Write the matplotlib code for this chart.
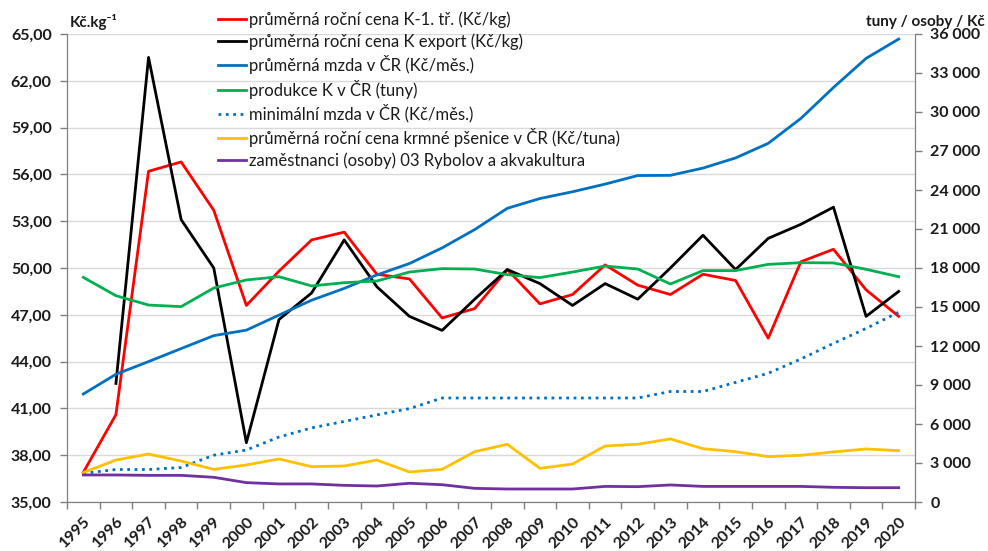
import numpy as np
import matplotlib.pyplot as plt
from matplotlib.ticker import FuncFormatter, FixedLocator

plt.rcParams['font.family'] = ['Lato', 'DejaVu Sans']

years = [str(y) for y in range(1995, 2021)]

# levá osa (Kč/kg)
cena_k1 = [36.9, 40.6, 56.2, 56.8, 53.7, 47.6, 49.8, 51.8, 52.3, 49.6, 49.3, 46.8, 47.4,
           49.9, 47.7, 48.3, 50.2, 48.9, 48.3, 49.6, 49.2, 45.5, 50.4, 51.2, 48.6, 46.9]
cena_export = [np.nan, 42.6, 63.5, 53.1, 50.0, 38.8, 46.7, 48.4, 51.8, 48.8, 46.9, 46.0, 48.0,
               49.9, 49.0, 47.6, 49.0, 48.0, 50.0, 52.1, 49.9, 51.9, 52.8, 53.9, 46.9, 48.5]

# pravá osa (tuny / osoby / Kč)
mzda = [8307, 9825, 10802, 11801, 12797, 13219, 14378, 15524, 16430, 17466, 18344, 19546, 20957,
        22592, 23344, 23864, 24455, 25112, 25128, 25686, 26467, 27589, 29504, 31885, 34125, 35611]
produkce = [17280, 15870, 15150, 15030, 16460, 17080, 17330, 16620, 16870, 17000, 17690, 17950, 17920,
            17490, 17260, 17690, 18150, 17920, 16770, 17800, 17800, 18280, 18410, 18390, 17900, 17330]
min_mzda = [2200, 2500, 2500, 2650, 3600, 4000, 5000, 5700, 6200, 6700, 7185, 8000, 8000,
            8000, 8000, 8000, 8000, 8000, 8500, 8500, 9200, 9900, 11000, 12200, 13350, 14600]
psenice = [2260, 3230, 3690, 3150, 2510, 2850, 3310, 2720, 2770, 3230, 2310, 2510, 3870,
           4440, 2590, 2920, 4310, 4440, 4850, 4100, 3870, 3490, 3590, 3850, 4080, 3950]
zamestnanci = [2080, 2080, 2050, 2050, 1900, 1490, 1390, 1390, 1280, 1230, 1440, 1330, 1050,
               1000, 1000, 1000, 1200, 1180, 1310, 1200, 1200, 1200, 1200, 1130, 1100, 1100]

labels = [
    "průměrná roční cena K-1. tř. (Kč/kg)",
    "průměrná roční cena K export (Kč/kg)",
    "průměrná mzda v ČR (Kč/měs.)",
    "produkce K v ČR (tuny)",
    "minimální mzda v ČR (Kč/měs.)",
    "průměrná roční cena krmné pšenice v ČR (Kč/tuna)",
    "zaměstnanci (osoby) 03 Rybolov a akvakultura",
]

x = np.arange(len(years))
lw = 2.0
axis_col = '#7f7f7f'
txt_col = '#1a1a1a'

fig = plt.figure(figsize=(9.88, 5.51), dpi=100)
ax = fig.add_axes([67 / 988, 1 - 502 / 551, (915 - 67) / 988, (502 - 34) / 551])
ax2 = ax.twinx()

l1, = ax.plot(x, cena_k1, color='#ff0000', lw=lw)
l2, = ax.plot(x, cena_export, color='#000000', lw=lw)
l3, = ax2.plot(x, mzda, color='#0070c0', lw=lw)
l4, = ax2.plot(x, produkce, color='#00b050', lw=lw)
l5, = ax2.plot(x, min_mzda, color='#0070c0', lw=lw, linestyle=':')
l6, = ax2.plot(x, psenice, color='#ffc000', lw=lw)
l7, = ax2.plot(x, zamestnanci, color='#7030a0', lw=lw)

ax.set_xlim(-0.5, len(years) - 0.5)
ax.set_ylim(35, 65)
ax2.set_ylim(0, 36000)

ax.set_yticks(np.arange(35, 66, 3))
ax.yaxis.set_major_formatter(FuncFormatter(lambda v, p: f"{v:.2f}".replace('.', ',')))
ax2.set_yticks(np.arange(0, 36001, 3000))
ax2.yaxis.set_major_formatter(FuncFormatter(lambda v, p: f"{int(v):,}".replace(',', ' ')))

ax.set_xticks(x)
ax.set_xticklabels(years, rotation=45, ha='right', rotation_mode='anchor')
ax.xaxis.set_minor_locator(FixedLocator(np.arange(-0.5, len(years), 1)))
ax.tick_params(axis='x', which='major', length=0, pad=9)
ax.tick_params(axis='x', which='minor', length=5, color=axis_col, width=1)

ax.grid(axis='y', color='#d9d9d9', lw=1)
ax.set_axisbelow(True)

for a in (ax, ax2):
    a.spines['top'].set_visible(False)
    for s in ('left', 'right', 'bottom'):
        a.spines[s].set_color(axis_col)
    a.tick_params(axis='y', length=5, color=axis_col, width=1, labelsize=11.5,
                  labelcolor=txt_col, pad=6)
ax.tick_params(axis='x', labelsize=11.5, labelcolor=txt_col)
for t in ax.get_xticklabels() + ax.get_yticklabels() + ax2.get_yticklabels():
    t.set_fontweight('bold')

fig.text(70 / 988, 1 - 22 / 551, "Kč.kg⁻¹", fontsize=11, fontweight='bold',
         ha='left', va='center', color=txt_col)
fig.text(985 / 988, 1 - 22 / 551, "tuny / osoby / Kč", fontsize=11, fontweight='bold',
         ha='right', va='center', color=txt_col)

fig.legend([l1, l2, l3, l4, l5, l6, l7], labels, loc='upper left',
           bbox_to_anchor=(218 / 988, 1 - 11 / 551), frameon=False, fontsize=12,
           handlelength=1.65, handletextpad=0.2, labelspacing=0.33, borderpad=0,
           borderaxespad=0, labelcolor=txt_col)

plt.savefig("out.png", dpi=100)
